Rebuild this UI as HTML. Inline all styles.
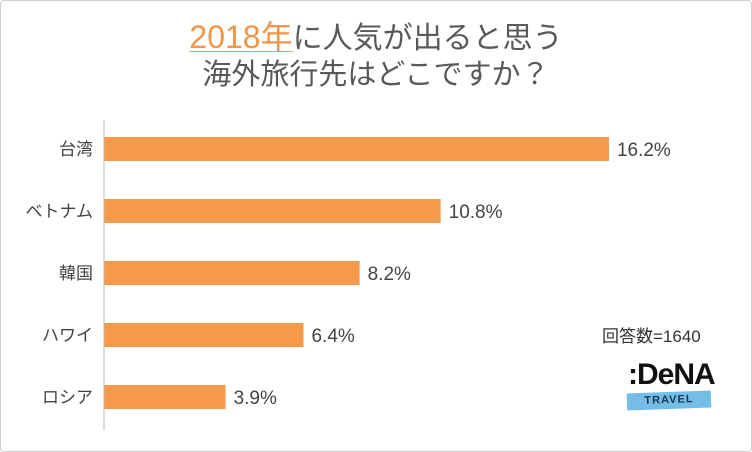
<!DOCTYPE html>
<html><head><meta charset="utf-8"><style>
body{margin:0;width:752px;height:452px;background:#fff;overflow:hidden;font-family:"Liberation Sans","Noto Sans CJK JP",sans-serif;}
#frame{position:absolute;left:0;top:0;width:750px;height:450px;border:1px solid #d0d0d0;border-radius:4px;}
.t{position:absolute;left:0;width:752px;text-align:center;font-size:29px;color:#595959;line-height:34px;}
</style></head><body>
<div id="frame"></div>
<div class="t" style="top:20px;font-size:30px"><span style="color:#f0964a;text-decoration:underline;text-decoration-thickness:1px;text-underline-offset:3px;font-size:32px">2018年</span>に人気が出ると思う</div>
<div class="t" style="top:58px">海外旅行先はどこですか？</div>
<svg id="c" width="752" height="452" style="position:absolute;left:0;top:0"></svg>
<div style="position:absolute;left:602px;top:322px;font-size:17px;color:#333">回答数=1640</div>
<div style="position:absolute;left:628px;top:358px;font-size:30px;font-weight:bold;color:#111;letter-spacing:-1px">:DeNA</div>
<div style="position:absolute;left:627px;top:392px;width:84px;height:17px;background:#74bde6;transform:rotate(-2deg);text-align:center;font-size:11px;font-weight:bold;color:#1a3550;line-height:17px;letter-spacing:1px">TRAVEL</div>
<script>
const categories=["台湾","ベトナム","韓国","ハワイ","ロシア"];
const values=[16.2,10.8,8.2,6.4,3.9];
const labels=["16.2%","10.8%","8.2%","6.4%","3.9%"];
const ns="http://www.w3.org/2000/svg";
const svg=document.getElementById('c');
const x0=104, pxPer=31.17, y0=149, step=62, bh=24;
const xs=v=>x0+v*pxPer, ys=i=>y0+i*step;
function mk(t,a){const e=document.createElementNS(ns,t);for(const k in a)e.setAttribute(k,a[k]);svg.appendChild(e);return e;}
categories.forEach((c,i)=>{
 const r=mk('rect',{x:x0,y:ys(i)-bh/2,width:xs(values[i])-x0,height:bh,fill:'#f5994a'});
 
 
 const l=mk('text',{x:xs(values[i])+8,y:ys(i)+7,'font-size':19,fill:'#444','font-family':'Liberation Sans'});
 l.textContent=labels[i];
 
 
 const cl=mk('text',{x:93,y:ys(i)+6,'font-size':17,fill:'#444','text-anchor':'end','font-family':'Liberation Sans, Noto Sans CJK JP, sans-serif'});
 cl.textContent=c;
 
 
});
const ax=mk('line',{x1:x0,x2:x0,y1:120,y2:430,stroke:'#bbb','stroke-width':1});


</script>
</body></html>
